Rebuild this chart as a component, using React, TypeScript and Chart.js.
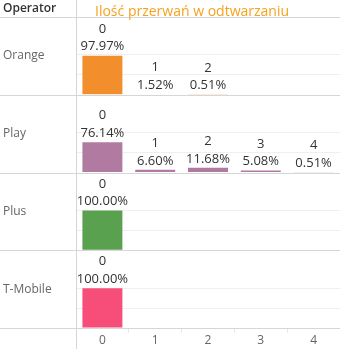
import React, { useEffect, useRef } from 'react';
import { Chart, registerables } from 'chart.js';

Chart.register(...registerables);

const operators = ['Orange', 'Play', 'Plus', 'T-Mobile'];
const categories = ['0', '1', '2', '3', '4'];
const orangeValues = [97.97, 1.52, 0.51, null, null];
const playValues = [76.14, 6.6, 11.68, 5.08, 0.51];
const plusValues = [100, null, null, null, null];
const tmobileValues = [100, null, null, null, null];
const seriesValues = [orangeValues, playValues, plusValues, tmobileValues];
const operatorColors = ['#F28E2B', '#B07AA1', '#59A14F', '#F74E79'];
const gridValues = [50, 100, 150];
const titleText = 'Ilość przerwań w odtwarzaniu';
const headerText = 'Operator';

const FONT = '"Open Sans", "DejaVu Sans", sans-serif';

const tablePlugin = {
  id: 'tableFrame',
  beforeDatasetsDraw(chart: any) {
    const { ctx, chartArea, width, height } = chart;
    ctx.save();
    ctx.strokeStyle = '#d6d6d6';
    ctx.lineWidth = 1;
    const hline = (y: number) => {
      const yy = Math.round(y) + 0.5;
      ctx.beginPath();
      ctx.moveTo(0, yy);
      ctx.lineTo(width, yy);
      ctx.stroke();
    };
    hline(chartArea.top);
    operators.forEach((_, i) => hline(chart.scales['y' + i].bottom));
    const xx = Math.round(chartArea.left) + 0.5;
    ctx.beginPath();
    ctx.moveTo(xx, 0);
    ctx.lineTo(xx, height);
    ctx.stroke();

    // header
    ctx.textBaseline = 'middle';
    ctx.textAlign = 'left';
    ctx.fillStyle = '#333';
    ctx.font = `600 12px ${FONT}`;
    ctx.fillText(headerText, 3, chartArea.top / 2);
    ctx.fillStyle = '#F5A21E';
    ctx.font = `14px ${FONT}`;
    ctx.textBaseline = 'alphabetic';
    ctx.fillText(titleText, 95, chartArea.top - 1);

    // row labels
    ctx.textBaseline = 'middle';
    ctx.fillStyle = '#666';
    ctx.font = `12px ${FONT}`;
    operators.forEach((op, i) => {
      const s = chart.scales['y' + i];
      ctx.fillText(op, 3, (s.top + s.bottom) / 2);
    });
    ctx.restore();
  },
  afterDatasetsDraw(chart: any) {
    const { ctx } = chart;
    ctx.save();
    ctx.textAlign = 'center';
    ctx.textBaseline = 'middle';
    ctx.fillStyle = '#333';
    ctx.font = `13px ${FONT}`;
    seriesValues.forEach((vals, i) => {
      const meta = chart.getDatasetMeta(i);
      meta.data.forEach((bar: any, j: number) => {
        const v = vals[j];
        if (v === null || v === undefined) return;
        ctx.fillText(categories[j], bar.x, bar.y - 26.5);
        ctx.fillText(v.toFixed(2) + '%', bar.x, bar.y - 9);
      });
    });
    ctx.restore();
  },
};

export default function App() {
  const ref = useRef<HTMLCanvasElement | null>(null);
  useEffect(() => {
    document.body.style.margin = '0';
    if (!ref.current) return;
    const scales: any = {
      x: {
        type: 'category',
        labels: categories,
        offset: true,
        grid: { offset: true, drawOnChartArea: false, drawTicks: true, tickLength: 5, color: '#e8e8e8' },
        border: { display: false },
        ticks: { color: '#666', font: { family: FONT, size: 12 }, padding: 0 },
        afterFit: (s: any) => { s.height = 21; },
      },
    };
    operators.forEach((_, i) => {
      scales['y' + i] = {
        type: 'linear',
        position: 'left',
        stack: 'rows',
        stackWeight: 1,
        weight: operators.length - 1 - i,
        min: 0,
        max: 195,
        ticks: { display: false, stepSize: 50 },
        grid: {
          drawTicks: false,
          color: (c: any) => (c.tick && gridValues.includes(c.tick.value) ? '#efefef' : 'rgba(0,0,0,0)'),
        },
        border: { display: false },
        afterFit: (s: any) => { s.width = 76; },
      };
    });
    const chart = new Chart(ref.current, {
      type: 'bar',
      data: {
        labels: categories,
        datasets: operators.map((op, i) => ({
          label: op,
          data: seriesValues[i] as any,
          yAxisID: 'y' + i,
          backgroundColor: operatorColors[i],
          grouped: false,
          barPercentage: 0.757,
          categoryPercentage: 1,
          borderWidth: 0,
        })),
      },
      options: {
        responsive: false,
        animation: false,
        devicePixelRatio: 1,
        layout: { padding: { top: 17, left: 0, right: 0, bottom: 0 } },
        plugins: { legend: { display: false }, tooltip: { enabled: false }, title: { display: false } },
        scales,
      } as any,
      plugins: [tablePlugin],
    });
    return () => chart.destroy();
  }, []);
  return (
    <div style={{ width: 340, height: 349 }}>
      <canvas ref={ref} width={340} height={349} style={{ display: 'block' }} />
    </div>
  );
}
